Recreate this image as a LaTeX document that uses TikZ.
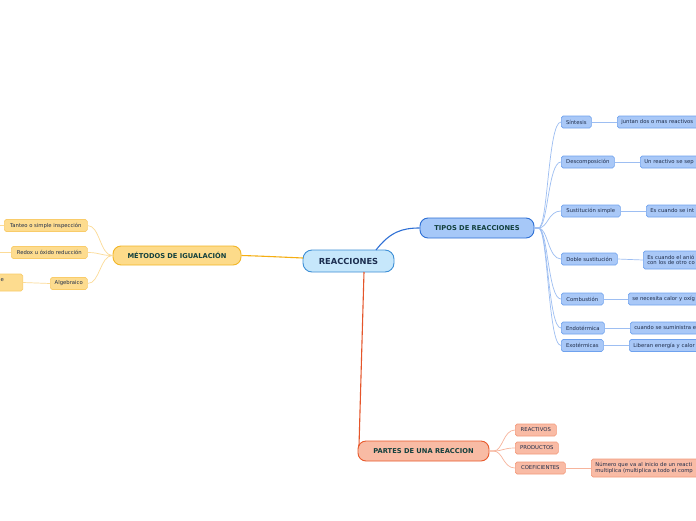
\documentclass[tikz,border=0pt]{standalone}
\usepackage{fontspec}
\setmainfont{DejaVu Sans}
\definecolor{cfill}{HTML}{C6E7FB}
\definecolor{cborder}{HTML}{3D8FD6}
\definecolor{ctext}{HTML}{1B2D4F}
\definecolor{tfill}{HTML}{A6C8F8}
\definecolor{tborder}{HTML}{2D6FD5}
\definecolor{ttext}{HTML}{12403D}
\definecolor{bfill}{HTML}{A9C8F7}
\definecolor{bborder}{HTML}{6FA2EE}
\definecolor{bline}{HTML}{9DBEF2}
\definecolor{btext}{HTML}{1F2D4A}
\definecolor{ymain}{HTML}{FDDB8A}
\definecolor{yborder}{HTML}{F2B626}
\definecolor{yfill}{HTML}{FDDC8F}
\definecolor{ycborder}{HTML}{F9CC6A}
\definecolor{yline}{HTML}{FCDB97}
\definecolor{yconn}{HTML}{F5AE12}
\definecolor{smain}{HTML}{F8BBA4}
\definecolor{sborder}{HTML}{E85A2C}
\definecolor{sfill}{HTML}{F9BBA5}
\definecolor{scborder}{HTML}{F39A7B}
\definecolor{sline}{HTML}{F7B49C}
\definecolor{sconn}{HTML}{E5552A}
\tikzset{
  mainbox/.style={rounded corners=8pt, line width=0.9pt, font=\bfseries\fontsize{6.7}{7}\selectfont, inner sep=0pt, minimum height=20pt, text=ttext},
  smallbox/.style={rounded corners=1.8pt, line width=0.6pt, font=\fontsize{5.3}{6.2}\selectfont, inner sep=0pt, minimum height=12pt, text=btext, anchor=west},
  longbox/.style={smallbox, align=left, inner xsep=4pt, text width=100pt},
  bluebox/.style={smallbox, fill=bfill, draw=bborder},
  bluelong/.style={longbox, fill=bfill, draw=bborder},
  yelbox/.style={smallbox, fill=yfill, draw=ycborder},
  salbox/.style={smallbox, fill=sfill, draw=scborder},
  sallong/.style={longbox, fill=sfill, draw=scborder},
  bl/.style={draw=bline, line width=0.7pt},
  yl/.style={draw=yline, line width=0.7pt},
  sl/.style={draw=sline, line width=0.7pt}
}
\begin{document}
\begin{tikzpicture}[x=1pt,y=-1pt]
\useasboundingbox (0,0) rectangle (696,520);
\clip (0,0) rectangle (696,520);
\fill[white] (0,0) rectangle (696,520);

% main nodes
\node[mainbox, fill=cfill, draw=cborder, text=ctext, font=\bfseries\fontsize{8.3}{9}\selectfont, minimum width=91pt, minimum height=22pt, rounded corners=9pt] (R) at (348.5,261) {REACCIONES};
\node[mainbox, fill=tfill, draw=tborder, minimum width=114pt] (T) at (477,228) {TIPOS DE REACCIONES};
\node[mainbox, fill=ymain, draw=yborder, minimum width=128pt, minimum height=19pt] (M) at (177,255.5) {MÉTODOS DE IGUALACIÓN};
\node[mainbox, fill=smain, draw=sborder, minimum width=131pt] (P) at (423.5,451) {PARTES DE UNA REACCION};

% main connectors
\coordinate (Rt) at (376,250);
\coordinate (Rl) at (303,258);
\coordinate (Rb) at (364,272);
\coordinate (Pl) at (359,446);
\draw[draw=tborder, line width=1.1pt] (Rt) .. controls (390,232) and (402,228) .. (T.west);
\draw[draw=yconn, line width=1.1pt] (Rl) .. controls (280,257) and (260,256) .. (M.east);
\draw[draw=sconn, line width=1.1pt] (Rb) -- (Pl);

% tipos children
\node[bluebox, minimum width=30pt] (s1) at (561,122) {Síntesis};
\node[bluebox, minimum width=53pt] (s2) at (561,162) {Descomposición};
\node[bluebox, minimum width=59pt] (s3) at (561,211) {Sustitución simple};
\node[bluebox, minimum width=56pt] (s4) at (561,259) {Doble sustitución};
\node[bluebox, minimum width=42pt] (s5) at (561,299) {Combustión};
\node[bluebox, minimum width=43pt] (s6) at (561,328) {Endotérmica};
\node[bluebox, minimum width=42pt] (s7) at (561,345.5) {Exotérmicas};

\foreach \n/\y in {s1/122,s2/162,s3/211,s4/259,s5/299,s6/328,s7/345.5}{
  \draw[bl] (T.east) -- ++(4,0) .. controls (548,228) and (548,\y) .. (\n.west);
}

\node[bluelong] (d1) at (617,122) {juntan dos o mas reactivos};
\node[bluelong] (d2) at (640,162) {Un reactivo se sep};
\node[bluelong] (d3) at (646,211) {Es cuando se int};
\node[bluelong, minimum height=18pt] (d4) at (643,260) {Es cuando el anió\\[-0.8pt]con los de otro co};
\node[bluelong] (d5) at (628,299) {se necesita calor y oxíg};
\node[bluelong] (d6) at (630,328) {cuando se suministra e};
\node[bluelong] (d7) at (629,345.5) {Liberan energía y calor};
\draw[bl] (s1.east) -- (d1.west);
\draw[bl] (s2.east) -- (d2.west);
\draw[bl] (s3.east) -- (d3.west);
\draw[bl] (s4.east) -- (d4.west);
\draw[bl] (s5.east) -- (d5.west);
\draw[bl] (s6.east) -- (d6.west);
\draw[bl] (s7.east) -- (d7.west);

% metodos children
\node[yelbox, minimum width=83pt] (m1) at (4,225.5) {Tanteo o simple inspección};
\node[yelbox, minimum width=76pt] (m2) at (11,252.5) {Redox u óxido reducción};
\node[yelbox, minimum width=37pt] (m3) at (50,283.5) {Algebraico};
\node[yelbox, minimum width=70pt, minimum height=17pt, anchor=east] (m4) at (23,282.5) {};
\node[font=\fontsize{5.3}{6}\selectfont, text=btext, inner sep=0pt, anchor=west] (m4t) at (0.5,280) {e};
\foreach \n/\y in {m1/225.5,m2/252.5,m3/283.5}{
  \draw[yl] (M.west) .. controls (100,255.5) and (100,\y) .. (\n.east);
}
\coordinate (m1e) at (-5,225.5);
\coordinate (m2e) at (-5,252.5);
\draw[yl] (m1.west) -- (m1e);
\draw[yl] (m2.west) -- (m2e);
\draw[yl] (m3.west) -- (m4.east);

% partes children
\node[salbox, minimum width=41pt] (p1) at (515,430) {REACTIVOS};
\node[salbox, minimum width=43pt] (p2) at (515,448) {PRODUCTOS};
\node[salbox, minimum width=50pt] (p3) at (515,468) {COEFICIENTES};
\foreach \n/\y in {p1/430,p2/448,p3/468}{
  \draw[sl] (P.east) -- ++(4,0) .. controls (503,451) and (503,\y) .. (\n.west);
}
\node[sallong, minimum height=18pt] (p4) at (591,468) {Número que va al inicio de un reacti\\[-0.8pt]multiplica (multiplica a todo el comp};
\draw[sl] (p3.east) -- (p4.west);
\end{tikzpicture}
\end{document}
